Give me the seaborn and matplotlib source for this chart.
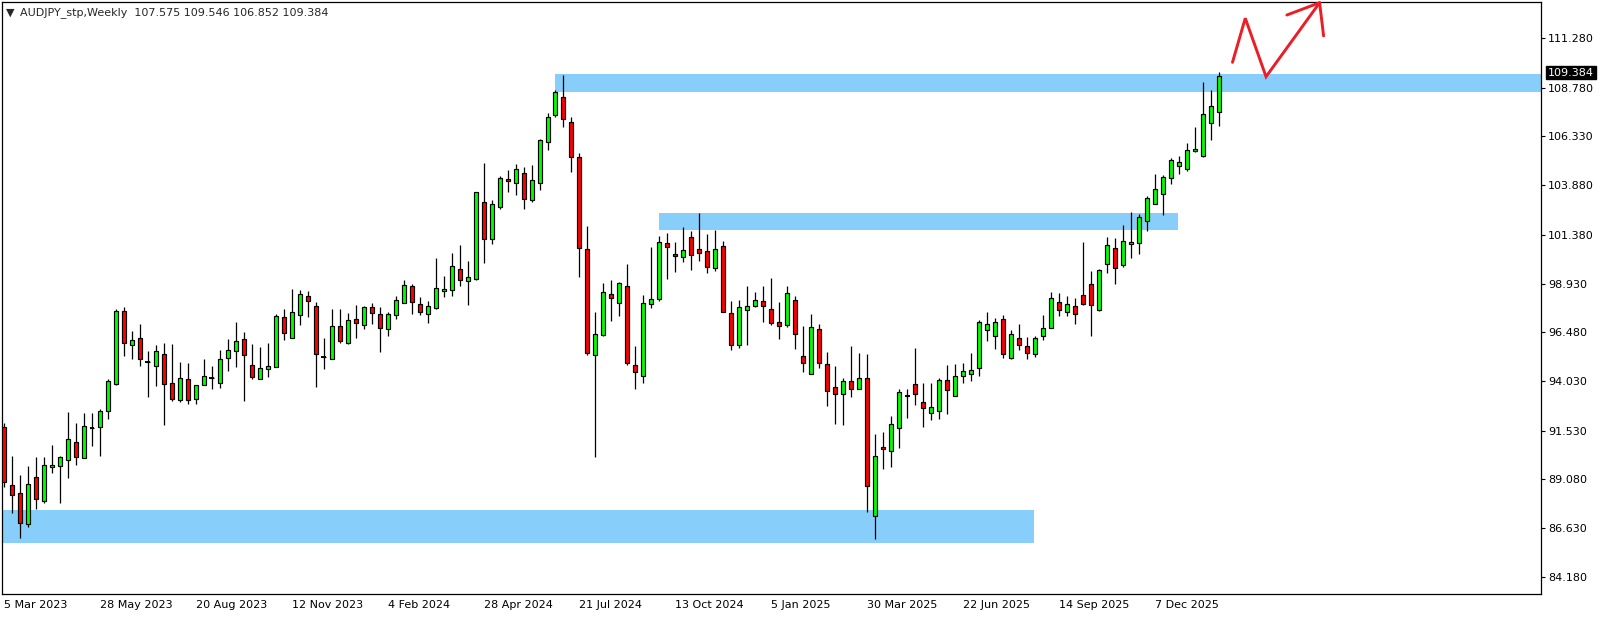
import pandas as pd
import seaborn as sns
import matplotlib.pyplot as plt

# weekly AUDJPY candles, first week = 5 Mar 2023
opens = [91.70, 88.79, 88.38, 86.83, 89.19, 87.98, 89.69, 89.74, 90.04, 90.95,
         90.14, 91.65, 91.70, 92.51, 93.86, 97.53, 95.83, 96.18, 95.00, 94.77,
         95.37, 93.91, 93.06, 94.12, 93.11, 93.81, 94.19, 93.91, 95.17, 95.52,
         96.12, 94.81, 94.11, 94.61, 94.71, 97.23, 96.17, 97.33, 98.28, 97.78,
         95.25, 95.12, 96.77, 95.92, 97.13, 96.83, 97.73, 97.38, 96.62, 97.33,
         97.93, 98.79, 97.88, 97.38, 97.68, 98.53, 98.59, 99.64, 99.04, 99.14,
         103.01, 101.15, 102.76, 104.17, 103.96, 104.47, 103.11, 103.96, 106.03, 107.38,
         108.29, 107.03, 105.27, 100.65, 95.32, 96.32, 98.39, 97.94, 98.79, 94.82,
         94.27, 97.89, 98.14, 100.95, 100.40, 100.24, 101.25, 100.65, 100.55, 99.69,
         100.80, 97.43, 95.82, 97.58, 97.78, 98.03, 97.63, 96.98, 96.83, 98.08,
         95.27, 94.37, 96.63, 94.87, 93.72, 93.36, 94.02, 93.61, 94.17, 87.23,
         90.70, 90.50, 91.65, 93.26, 93.87, 92.96, 92.41, 92.51, 94.07, 93.26,
         94.27, 94.37, 94.67, 96.58, 96.28, 97.13, 95.17, 96.18, 95.77, 95.37,
         96.28, 96.68, 97.99, 97.48, 97.79, 98.34, 98.89, 97.58, 99.90, 100.70,
         99.85, 100.90, 100.95, 102.06, 102.91, 103.42, 104.22, 104.82, 104.67, 105.58,
         105.33, 106.99, 107.575]
highs = [91.94, 90.26, 89.31, 89.76, 90.21, 90.21, 90.81, 90.26, 92.46, 91.90,
         92.41, 92.41, 92.61, 94.12, 97.64, 97.74, 96.53, 96.88, 95.52, 95.83,
         95.93, 95.88, 94.97, 94.92, 93.81, 95.12, 94.78, 95.59, 96.14, 96.99,
         96.49, 95.89, 95.72, 95.94, 97.38, 97.63, 98.64, 98.58, 98.53, 97.98,
         96.17, 97.63, 97.63, 97.43, 97.83, 97.78, 97.93, 97.73, 97.48, 98.28,
         99.09, 98.89, 98.23, 98.03, 100.19, 99.29, 100.45, 100.85, 100.04, 103.51,
         104.97, 103.11, 104.32, 104.62, 104.92, 104.77, 104.87, 106.18, 107.48, 108.64,
         109.42, 107.28, 105.47, 101.80, 97.48, 98.94, 99.09, 98.99, 99.90, 95.77,
         98.34, 100.75, 101.30, 101.45, 101.00, 101.75, 101.55, 102.46, 101.40, 101.60,
         101.05, 98.03, 98.08, 98.79, 98.49, 98.79, 99.19, 97.98, 98.79, 98.28,
         96.78, 97.39, 96.88, 95.48, 94.77, 94.17, 95.78, 95.42, 95.37, 91.35,
         91.45, 92.26, 93.61, 93.61, 95.68, 93.92, 93.92, 94.17, 94.82, 94.87,
         94.92, 95.42, 97.08, 97.49, 97.18, 97.34, 96.58, 96.88, 96.23, 96.28,
         97.33, 98.49, 98.44, 98.29, 98.19, 101.00, 99.54, 99.65, 101.25, 101.20,
         101.86, 102.51, 102.41, 103.32, 104.42, 104.37, 105.23, 105.33, 105.98, 106.78,
         109.05, 108.64, 109.546]
lows = [88.69, 87.38, 86.12, 86.67, 87.61, 87.92, 89.42, 87.92, 89.17, 89.83,
        90.14, 90.78, 90.28, 92.14, 93.81, 95.31, 95.15, 94.77, 93.24, 93.80,
        91.84, 93.01, 92.96, 92.86, 92.86, 93.81, 93.61, 93.66, 94.55, 94.75,
        93.04, 94.11, 94.11, 94.24, 94.71, 96.07, 96.17, 96.86, 97.26, 93.74,
        94.61, 95.12, 95.92, 95.87, 96.17, 96.62, 96.88, 95.50, 96.27, 97.13,
        97.93, 97.38, 97.33, 96.93, 97.63, 98.23, 98.28, 98.79, 97.83, 99.09,
        99.94, 100.90, 102.66, 103.51, 103.38, 102.66, 103.01, 103.61, 105.62, 107.28,
        106.78, 104.55, 99.24, 95.32, 90.19, 96.27, 97.03, 97.28, 94.82, 93.61,
        93.91, 97.68, 98.04, 99.14, 99.49, 99.99, 99.59, 100.04, 99.44, 99.54,
        97.48, 95.57, 95.67, 95.82, 97.73, 96.98, 96.83, 96.12, 96.73, 95.62,
        94.50, 94.37, 94.67, 92.76, 91.89, 91.84, 93.21, 93.61, 87.43, 86.07,
        89.59, 89.69, 90.65, 92.16, 92.81, 91.70, 92.06, 92.11, 92.36, 93.26,
        93.92, 94.02, 94.27, 96.03, 95.63, 95.17, 95.12, 95.57, 95.12, 95.22,
        96.08, 96.68, 97.28, 97.28, 96.88, 97.84, 96.28, 97.53, 99.44, 98.89,
        99.75, 100.20, 100.40, 101.56, 102.91, 102.36, 103.92, 104.42, 104.57, 105.53,
        105.28, 106.13, 106.852]
closes = [88.94, 88.28, 86.88, 88.84, 88.08, 89.79, 89.79, 90.19, 91.10, 90.19,
          91.75, 91.65, 92.51, 94.02, 97.53, 95.93, 96.08, 95.12, 95.00, 95.52,
          93.86, 93.11, 94.17, 93.06, 93.81, 94.27, 94.19, 95.12, 95.57, 96.02,
          95.32, 94.21, 94.66, 94.76, 97.28, 96.42, 97.48, 98.38, 98.03, 95.37,
          95.25, 96.77, 96.02, 97.08, 96.93, 97.73, 97.43, 96.67, 97.38, 98.08,
          98.84, 97.98, 97.48, 97.78, 98.69, 98.64, 99.79, 99.09, 99.24, 103.51,
          101.15, 102.91, 104.22, 104.07, 104.67, 103.16, 104.12, 106.13, 107.28, 108.54,
          107.18, 105.27, 100.70, 95.42, 96.37, 98.48, 98.19, 98.94, 94.92, 94.47,
          97.94, 98.14, 101.00, 100.75, 100.29, 100.60, 100.35, 100.45, 99.74, 100.65,
          97.48, 95.82, 97.73, 97.78, 98.08, 97.78, 96.93, 96.78, 98.43, 96.37,
          94.92, 96.73, 94.92, 93.51, 93.36, 94.02, 93.61, 94.17, 88.74, 90.25,
          90.60, 91.86, 93.46, 93.26, 93.36, 92.66, 92.71, 94.07, 93.56, 94.27,
          94.52, 94.57, 96.98, 96.88, 96.98, 95.37, 96.38, 95.82, 95.42, 96.18,
          96.68, 98.19, 97.58, 97.89, 97.38, 97.89, 97.84, 99.60, 100.85, 99.70,
          101.05, 101.00, 102.26, 103.22, 103.67, 104.27, 105.13, 105.03, 105.63, 105.68,
          107.44, 107.84, 109.384]

date_labels = ["5 Mar 2023", "28 May 2023", "20 Aug 2023", "12 Nov 2023", "4 Feb 2024",
               "28 Apr 2024", "21 Jul 2024", "13 Oct 2024", "5 Jan 2025", "30 Mar 2025",
               "22 Jun 2025", "14 Sep 2025", "7 Dec 2025"]
price_ticks = [111.280, 108.780, 106.330, 103.880, 101.380, 98.930,
               96.480, 94.030, 91.530, 89.080, 86.630, 84.180]

# support / resistance zones (week index start/end, price low/high)
zone_start = [68.9, 81.9, -0.25]
zone_end = [192.3, 146.9, 128.9]
zone_low = [108.58, 101.62, 85.88]
zone_high = [109.45, 102.48, 87.55]

# hand drawn projection arrow
arrow_x = [153.7, 155.3, 157.9, 164.6]
arrow_y = [110.05, 112.27, 109.33, 113.05]
head_x = [160.5, 164.6, 165.1]
head_y = [112.43, 113.05, 111.38]

df = pd.DataFrame({"open": opens, "high": highs, "low": lows, "close": closes})
df["week"] = range(len(df))
df["up"] = df["close"] >= df["open"]

sns.set_style("white")
plt.rcParams["font.family"] = ["DejaVu Sans"]

fig = plt.figure(figsize=(16.04, 6.19), dpi=100)
ax = fig.add_axes([2 / 1604, 1 - 594 / 619, 1539 / 1604, 592 / 619])

for s, e, lo, hi in zip(zone_start, zone_end, zone_low, zone_high):
    ax.fill_between([s, e], lo, hi, color="#87cefa", lw=0, zorder=1)

ax.vlines(df["week"], df["low"], df["high"], color="black", lw=0.9, zorder=2)
body_low = df[["open", "close"]].min(axis=1)
body_h = (df["close"] - df["open"]).abs()
colors = ["#00ff00" if u else "#ff0000" for u in df["up"]]
ax.bar(df["week"], body_h, bottom=body_low, width=0.5, color=colors,
       edgecolor="black", linewidth=0.85, zorder=3)
doji = df[body_h < 0.03]
ax.hlines(doji["close"], doji["week"] - 0.3, doji["week"] + 0.3, color="black", lw=1.4, zorder=3)

ax.plot(arrow_x, arrow_y, color="#ee1c24", lw=2.1, clip_on=False, zorder=5,
        solid_joinstyle="miter")
ax.plot(head_x, head_y, color="#ee1c24", lw=2.1, clip_on=False, zorder=5)

ax.set_xlim(-0.25, 192.3)
ax.set_ylim(83.32, 113.085)

ax.set_xticks(range(0, 12 * len(date_labels), 12))
ax.set_xticklabels(date_labels, ha="left", fontsize=8)
ax.yaxis.tick_right()
ax.set_yticks(price_ticks)
ax.set_yticklabels([f"{p:.3f}" for p in price_ticks], fontsize=8)
ax.tick_params(axis="both", direction="out", length=3, width=0.8, pad=2, colors="black")
ax.tick_params(axis="x", pad=1)
for sp in ax.spines.values():
    sp.set_color("black")
    sp.set_linewidth(0.9)

last = closes[-1]
ax.annotate(f"{last:.3f}", xy=(1, last), xycoords=ax.get_yaxis_transform(),
            xytext=(5, 2), textcoords="offset points", va="center", ha="left",
            fontsize=8, color="white",
            bbox=dict(boxstyle="square,pad=0.15", fc="black", ec="black"), zorder=10)

fig.text(6 / 1604, 1 - 12.5 / 619, "\u25bc", fontsize=8, va="center", ha="left")
fig.text(20 / 1604, 1 - 12.5 / 619,
         f"AUDJPY_stp,Weekly  {opens[-1]:.3f} {highs[-1]:.3f} {lows[-1]:.3f} {closes[-1]:.3f}",
         fontsize=8, va="center", ha="left")

fig.savefig("out.png", dpi=100)
